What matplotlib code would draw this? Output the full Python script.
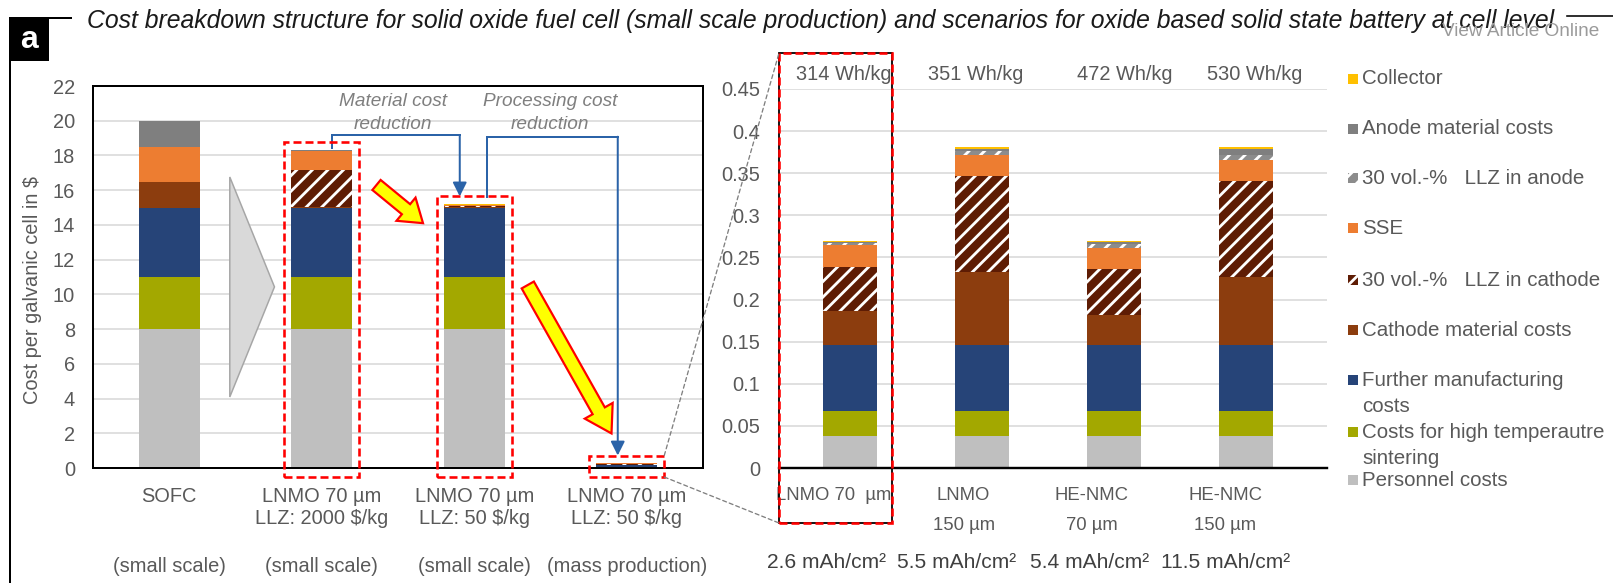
import numpy as np
import matplotlib
matplotlib.use("Agg")
import matplotlib.pyplot as plt
from matplotlib.patches import Rectangle, Polygon, FancyArrowPatch, ConnectionPatch, ArrowStyle
from matplotlib.lines import Line2D
from matplotlib.transforms import Affine2D, blended_transform_factory

W, H, DPI = 1613, 583, 140
PT = 72.0 / DPI  # points per pixel

plt.rcParams['font.family'] = ['Liberation Sans', 'DejaVu Sans']
plt.rcParams['hatch.linewidth'] = 2.8 * PT
plt.rcParams['lines.scale_dashes'] = False

# ---------------- data ----------------
title = ("Cost breakdown structure for solid oxide fuel cell (small scale production) "
         "and scenarios for oxide based solid state battery at cell level")

# left panel: cost per galvanic cell in $
left_line1 = ["SOFC", "LNMO 70 µm", "LNMO 70 µm", "LNMO 70 µm"]
left_line2 = ["", "LLZ: 2000 $/kg", "LLZ: 50 $/kg", "LLZ: 50 $/kg"]
left_scale = ["(small scale)", "(small scale)", "(small scale)", "(mass production)"]
left_yticks = [0, 2, 4, 6, 8, 10, 12, 14, 16, 18, 20, 22]

personnel_left = [8.0, 8.0, 8.0, 0.038]
sintering_left = [3.0, 3.0, 3.0, 0.0297]
further_left = [4.0, 4.0, 4.0, 0.078]
cathode_left = [1.5, 0.04, 0.04, 0.041]
llz_cathode_left = [0.0, 2.13, 0.05, 0.0524]
sse_left = [2.0, 1.06, 0.03, 0.0256]
llz_anode_left = [0.0, 0.05, 0.02, 0.003]
anode_left = [1.5, 0.01, 0.01, 0.0005]
collector_left = [0.0, 0.01, 0.04, 0.0015]

# right panel: battery cell scenarios (mass production)
right_line1 = ["LNMO 70  µm", "LNMO", "HE-NMC", "HE-NMC"]
right_line2 = ["", "150 µm", "70 µm", "150 µm"]
energy_density = ["314 Wh/kg", "351 Wh/kg", "472 Wh/kg", "530 Wh/kg"]
areal_capacity = ["2.6 mAh/cm²", "5.5 mAh/cm²", "5.4 mAh/cm²", "11.5 mAh/cm²"]
right_yticks = [0, 0.05, 0.1, 0.15, 0.2, 0.25, 0.3, 0.35, 0.4, 0.45]
right_yticklabels = ["0", "0.05", "0.1", "0.15", "0.2", "0.25", "0.3", "0.35", "0.4", "0.45"]

personnel_right = [0.038, 0.038, 0.038, 0.038]
sintering_right = [0.0297, 0.0297, 0.0297, 0.0297]
further_right = [0.078, 0.078, 0.078, 0.078]
cathode_right = [0.041, 0.0873, 0.0362, 0.0807]
llz_cathode_right = [0.0524, 0.1135, 0.0543, 0.1142]
sse_right = [0.0256, 0.0252, 0.0252, 0.0251]
llz_anode_right = [0.003, 0.005, 0.0051, 0.006]
anode_right = [0.0005, 0.0023, 0.0015, 0.0073]
collector_right = [0.0015, 0.0017, 0.002, 0.0025]

# series, bottom to top of each stack
series_names = ["Personnel costs", "Costs for high temperautre\nsintering",
                "Further manufacturing\ncosts", "Cathode material costs",
                "30 vol.-%   LLZ in cathode", "SSE", "30 vol.-%   LLZ in anode",
                "Anode material costs", "Collector"]
series_colors = ["#bfbfbf", "#a3a800", "#264478", "#8c3d0e", "#5e1c04",
                 "#ed7d31", "#8c8c8c", "#7f7f7f", "#ffc000"]
series_hatch = [None, None, None, None, "///", None, "///", None, None]

left_layers = [personnel_left, sintering_left, further_left, cathode_left, llz_cathode_left,
               sse_left, llz_anode_left, anode_left, collector_left]
right_layers = [personnel_right, sintering_right, further_right, cathode_right, llz_cathode_right,
                sse_right, llz_anode_right, anode_right, collector_right]

TICK = "#595959"
FS = 20 * PT

fig = plt.figure(figsize=(W / DPI, H / DPI), dpi=DPI)
fig.patch.set_facecolor("white")
# pixel coordinates measured from the top-left corner
pix = Affine2D().scale(1.0 / W, -1.0 / H).translate(0, 1.0) + fig.transFigure


def stack(ax, layers, width):
    x = np.arange(len(layers[0]))
    bottom = np.zeros(len(x))
    for vals, col, hat in zip(layers, series_colors, series_hatch):
        vals = np.asarray(vals, dtype=float)
        if hat:
            ax.bar(x, vals, width, bottom=bottom, color=col, edgecolor="white",
                   linewidth=0, hatch=hat, zorder=2)
        else:
            ax.bar(x, vals, width, bottom=bottom, color=col, linewidth=0, zorder=2)
        bottom += vals
    return bottom


# ---------------- left panel ----------------
ax1 = fig.add_axes([93 / W, (H - 468) / H, 610 / W, 382 / H])
ax1.set_facecolor("none")
tot_l = stack(ax1, left_layers, 0.40)
ax1.set_xlim(-0.5, 3.5)
ax1.set_ylim(0, 22)
ax1.set_yticks(left_yticks)
ax1.set_xticks([])
ax1.tick_params(axis="y", length=0, labelsize=FS, labelcolor=TICK, pad=18 * PT)
ax1.set_axisbelow(True)
ax1.yaxis.grid(True, color="#d9d9d9", lw=1.6 * PT)
for s in ax1.spines.values():
    s.set_color("black")
    s.set_linewidth(2.0 * PT)

tr1 = blended_transform_factory(ax1.transData, pix)
for i in range(4):
    ax1.text(i, 497, left_line1[i], transform=tr1, ha="center", va="center",
             fontsize=FS, color=TICK)
    if left_line2[i]:
        ax1.text(i, 519, left_line2[i], transform=tr1, ha="center", va="center",
                 fontsize=FS, color=TICK)
    ax1.text(i, 567, left_scale[i], transform=tr1, ha="center", va="center",
             fontsize=FS, color=TICK)

fig.text(33, 290, "Cost per galvanic cell in $", transform=pix, rotation=90,
         ha="center", va="center", fontsize=FS, color=TICK)

# transition wedge between SOFC and battery bars
ax1.add_patch(Polygon([(0.397, 16.76), (0.397, 4.09), (0.69, 10.43)], closed=True,
                      fc="#d9d9d9", ec="#a6a6a6", lw=1.5 * PT, zorder=1))

# dashed highlight boxes
RED = "#ff0000"
for i in (1, 2, 3):
    ax1.add_patch(Rectangle((i - 0.246, -0.52), 0.492, tot_l[i] + 0.45 + 0.52, fill=False,
                            ec=RED, lw=2.6 * PT, ls=(0, (8 * PT, 4 * PT)),
                            clip_on=False, zorder=6))

# cost-reduction connectors
BLUE = "#2b63a8"
ax1.plot([1.064, 1.064, 1.905], [tot_l[1] + 0.13, 19.18, 19.18], color=BLUE,
         lw=2.0 * PT, clip_on=False, zorder=5, solid_joinstyle="miter")
ax1.annotate("", xy=(1.905, tot_l[2] + 0.45), xytext=(1.905, 19.18),
             arrowprops=dict(arrowstyle="-|>,head_length=0.6,head_width=0.3", color=BLUE,
                             lw=2.0 * PT, shrinkA=0, shrinkB=0), zorder=5)
ax1.plot([2.084, 2.084, 2.941], [tot_l[2] + 0.4, 19.08, 19.08], color=BLUE,
         lw=2.0 * PT, clip_on=False, zorder=5, solid_joinstyle="miter")
ax1.annotate("", xy=(2.941, tot_l[3] + 0.45), xytext=(2.941, 19.08),
             arrowprops=dict(arrowstyle="-|>,head_length=0.6,head_width=0.3", color=BLUE,
                             lw=2.0 * PT, shrinkA=0, shrinkB=0), zorder=5)

ax1.text(1.466, 20.45, "Material cost\nreduction", ha="center", va="center",
         style="italic", fontsize=19 * PT, color="#7f7f7f", linespacing=1.45, zorder=5)
ax1.text(2.495, 20.45, "Processing cost\nreduction", ha="center", va="center",
         style="italic", fontsize=19 * PT, color="#7f7f7f", linespacing=1.45, zorder=5)

# yellow trend arrows
for (p0, p1, tw, hw, hl) in [((1.359, 16.30), (1.664, 14.10), 13, 30, 22),
                             ((2.351, 10.54), (2.90, 1.99), 14, 32, 26)]:
    ax1.add_patch(FancyArrowPatch(posA=p0, posB=p1,
                                  arrowstyle=ArrowStyle.Simple(head_length=hl * PT,
                                                               head_width=hw * PT,
                                                               tail_width=tw * PT),
                                  mutation_scale=1, fc="#ffff00", ec=RED, lw=2.2 * PT,
                                  shrinkA=0, shrinkB=0, clip_on=False, zorder=6,
                                  joinstyle="miter"))

# ---------------- right panel ----------------
ax2 = fig.add_axes([779 / W, (H - 468) / H, 548 / W, 379 / H])
ax2.set_facecolor("none")
tot_r = stack(ax2, right_layers, 0.41)
X0, X1 = -0.537, 3.61
ax2.set_xlim(X0, X1)
ax2.set_ylim(0, 0.45)
ax2.set_yticks(right_yticks)
ax2.set_yticklabels(right_yticklabels)
ax2.set_xticks([])
ax2.tick_params(axis="y", length=0, labelsize=FS, labelcolor=TICK, pad=19 * PT)
ax2.set_axisbelow(True)
ax2.yaxis.grid(True, color="#d9d9d9", lw=1.6 * PT)
for k in ("left", "right", "top"):
    ax2.spines[k].set_visible(False)
ax2.spines["bottom"].set_color("black")
ax2.spines["bottom"].set_linewidth(2.4 * PT)

tr2 = blended_transform_factory(ax2.transData, pix)
wh_dx = [-0.05, -0.05, 0.08, 0.06]
name_dx = [-0.12, -0.14, -0.17, -0.16]
cap_dx = [-0.18, -0.19, -0.19, -0.16]
NAME_FS = 18.5 * PT
for i in range(4):
    ax2.text(i + wh_dx[i], 74, energy_density[i], transform=tr2, ha="center", va="center",
             fontsize=FS, color=TICK)
    ax2.text(i + name_dx[i], 495, right_line1[i], transform=tr2, ha="center", va="center",
             fontsize=NAME_FS, color=TICK)
    if right_line2[i]:
        ax2.text(i + name_dx[i], 525, right_line2[i], transform=tr2, ha="center",
                 va="center", fontsize=NAME_FS, color=TICK)
    ax2.text(i + cap_dx[i], 563, areal_capacity[i], transform=tr2, ha="center", va="center",
             fontsize=21 * PT, color="#404040")

# zoom frame around the first battery scenario
zoom_box = dict(xy=(X0, -0.0653), width=0.855, height=0.558, fill=False, clip_on=False)
ax2.add_patch(Rectangle(**zoom_box, ec="black", lw=1.8 * PT, zorder=6))
ax2.add_patch(Rectangle(**zoom_box, ec=RED, lw=2.6 * PT, ls=(0, (8 * PT, 4 * PT)), zorder=7))

# dotted lines linking the mass-production bar with the zoomed panel
for ya, yb in [(tot_l[3] + 0.45, -0.0653 + 0.558), (-0.52, -0.0653)]:
    fig.add_artist(ConnectionPatch(xyA=(3.246, ya), coordsA=ax1.transData,
                                   xyB=(X0, yb), coordsB=ax2.transData,
                                   color="#7f7f7f", lw=1.3 * PT,
                                   ls=(0, (4 * PT, 3 * PT))))

# ---------------- legend ----------------
legend_rows = [79, 129, 178, 228, 280, 330, 380, 432, 480]
for row, idx in zip(legend_rows, range(len(series_names) - 1, -1, -1)):
    fig.add_artist(Rectangle((1348, row - 5), 10, 10, transform=pix,
                             fc=series_colors[idx], ec="white" if series_hatch[idx] else "none",
                             lw=0, hatch=series_hatch[idx]))
    for k, line in enumerate(series_names[idx].split("\n")):
        fig.text(1362, row + 26 * k, line, transform=pix, ha="left", va="center",
                 fontsize=20.5 * PT, color=TICK)

# ---------------- panel frame, label and title ----------------
fig.add_artist(Line2D([9.5, 9.5], [18, 583], transform=pix, color="black", lw=2.0 * PT))
fig.add_artist(Line2D([9.5, 71], [18, 18], transform=pix, color="black", lw=2.0 * PT))
fig.add_artist(Rectangle((9, 18), 40, 43, transform=pix, fc="black", ec="none"))
fig.text(29, 40, "a", transform=pix, ha="center", va="center", color="white",
         fontsize=32 * PT, fontweight="bold")

ttl = fig.text(87, 21, title, transform=pix, ha="left", va="center", style="italic",
               fontsize=21 * PT, color="#1a1a1a")
fig.text(1442, 32, "View Article Online", transform=pix, ha="left", va="center",
         fontsize=19 * PT, color="#9a9a9a")
fig.add_artist(Line2D([1567, 1613], [16, 16], transform=pix, color="black", lw=1.6 * PT))

# stretch the title to span the full header width
fig.canvas.draw()
bb = ttl.get_window_extent()
ttl.set_fontsize(ttl.get_fontsize() * 1466.0 / bb.width)

fig.savefig("out.png", dpi=DPI, facecolor="white")
